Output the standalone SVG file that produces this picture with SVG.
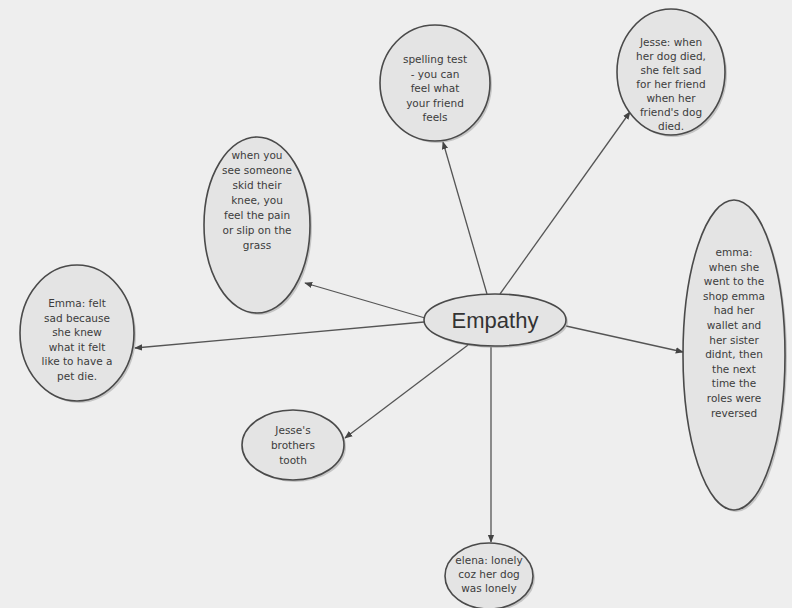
<svg xmlns="http://www.w3.org/2000/svg" width="792" height="608" viewBox="0 0 792 608">
<style>
.node ellipse.b{fill:#e4e4e4;stroke:#4a4a4a;stroke-width:1.6}
.node ellipse.s{fill:#9a9a9a;opacity:.5}
.t{font-family:"DejaVu Sans",Verdana,sans-serif;font-size:10.5px;fill:#3c3c3c;text-anchor:middle}
.big{font-family:"Liberation Sans",Arial,sans-serif;font-size:22px;fill:#333;text-anchor:middle}
#connectors line{stroke:#555;stroke-width:1.3;marker-end:url(#ah)}
</style>
<defs>
<marker id="ah" viewBox="0 0 10 10" refX="9" refY="5" markerWidth="8" markerHeight="8" orient="auto" markerUnits="userSpaceOnUse">
<path d="M0,1 L10,5 L0,9 z" fill="#444"/>
</marker>
</defs>
<rect width="792" height="608" fill="#eeeeee"/>
<g id="connectors">
<line x1="487" y1="294" x2="443" y2="142"/>
<line x1="500" y1="294" x2="630" y2="112"/>
<line x1="425" y1="318" x2="305" y2="283"/>
<line x1="424" y1="322" x2="135" y2="348"/>
<line x1="566" y1="326" x2="683" y2="352"/>
<line x1="468" y1="345" x2="345" y2="438"/>
<line x1="491" y1="347" x2="491" y2="542"/>
</g>
<g id="empathy" class="node">
<ellipse class="s" cx="497" cy="322" rx="71" ry="26"/>
<ellipse class="b" cx="495" cy="320" rx="71" ry="26"/>
<text class="big" x="495" y="328">Empathy</text>
</g>
<g id="spelling" class="node">
<ellipse class="s" cx="437" cy="85" rx="55" ry="58"/>
<ellipse class="b" cx="435" cy="83" rx="55" ry="58"/>
<text class="t" x="435" y="63">spelling test</text>
<text class="t" x="435" y="77.5">- you can</text>
<text class="t" x="435" y="92">feel what</text>
<text class="t" x="435" y="106.5">your friend</text>
<text class="t" x="435" y="121">feels</text>
</g>
<g id="jesse-dog" class="node">
<ellipse class="s" cx="673" cy="74" rx="54" ry="63"/>
<ellipse class="b" cx="671" cy="72" rx="54" ry="63"/>
<text class="t" x="671" y="46">Jesse: when</text>
<text class="t" x="671" y="60">her dog died,</text>
<text class="t" x="671" y="74">she felt sad</text>
<text class="t" x="671" y="88">for her friend</text>
<text class="t" x="671" y="102">when her</text>
<text class="t" x="671" y="116">friend's dog</text>
<text class="t" x="671" y="130">died.</text>
</g>
<g id="skid" class="node">
<ellipse class="s" cx="259" cy="227" rx="53" ry="88"/>
<ellipse class="b" cx="257" cy="225" rx="53" ry="88"/>
<text class="t" x="257" y="159">when you</text>
<text class="t" x="257" y="174">see someone</text>
<text class="t" x="257" y="189">skid their</text>
<text class="t" x="257" y="204">knee, you</text>
<text class="t" x="257" y="219">feel the pain</text>
<text class="t" x="257" y="234">or slip on the</text>
<text class="t" x="257" y="249">grass</text>
</g>
<g id="emma-pet" class="node">
<ellipse class="s" cx="79" cy="335" rx="57" ry="68"/>
<ellipse class="b" cx="77" cy="333" rx="57" ry="68"/>
<text class="t" x="77" y="307">Emma: felt</text>
<text class="t" x="77" y="321.5">sad because</text>
<text class="t" x="77" y="336">she knew</text>
<text class="t" x="77" y="350.5">what it felt</text>
<text class="t" x="77" y="365">like to have a</text>
<text class="t" x="77" y="379.5">pet die.</text>
</g>
<g id="emma-shop" class="node">
<ellipse class="s" cx="736" cy="357" rx="51" ry="155"/>
<ellipse class="b" cx="734" cy="355" rx="51" ry="155"/>
<text class="t" x="734" y="256">emma:</text>
<text class="t" x="734" y="270.6">when she</text>
<text class="t" x="734" y="285.2">went to the</text>
<text class="t" x="734" y="299.8">shop emma</text>
<text class="t" x="734" y="314.4">had her</text>
<text class="t" x="734" y="329">wallet and</text>
<text class="t" x="734" y="343.6">her sister</text>
<text class="t" x="734" y="358.2">didnt, then</text>
<text class="t" x="734" y="372.8">the next</text>
<text class="t" x="734" y="387.4">time the</text>
<text class="t" x="734" y="402">roles were</text>
<text class="t" x="734" y="416.6">reversed</text>
</g>
<g id="tooth" class="node">
<ellipse class="s" cx="295" cy="447" rx="51" ry="35"/>
<ellipse class="b" cx="293" cy="445" rx="51" ry="35"/>
<text class="t" x="293" y="434">Jesse's</text>
<text class="t" x="293" y="449">brothers</text>
<text class="t" x="293" y="464">tooth</text>
</g>
<g id="elena" class="node">
<ellipse class="s" cx="491" cy="578" rx="44" ry="33"/>
<ellipse class="b" cx="489" cy="576" rx="44" ry="33"/>
<text class="t" x="489" y="564">elena: lonely</text>
<text class="t" x="489" y="578">coz her dog</text>
<text class="t" x="489" y="592">was lonely</text>
</g>
</svg>
